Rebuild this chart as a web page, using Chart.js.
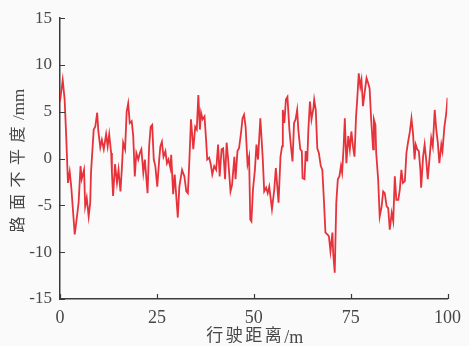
<!DOCTYPE html>
<html>
<head>
<meta charset="utf-8">
<script src="https://cdn.jsdelivr.net/npm/chart.js@4"></script>
<style>
  html, body { margin: 0; padding: 0; background: #fafafa; }
  #wrap { width: 469px; height: 346px; }
</style>
</head>
<body>
<div id="wrap"><canvas id="c" width="469" height="346"></canvas></div>
<script>
// Road roughness profile: distance (m) and elevation deviation (mm)
const distance = [
  0, 0.7, 1.2, 1.6, 2.05, 2.5, 2.9, 3.8, 4.2, 4.8, 5.3, 5.6, 6.2, 6.5, 6.9, 7.4, 7.8, 8.0,
  8.7, 9.1, 9.6, 9.9, 10.4, 10.8, 11.3, 11.9, 12.3, 12.7, 13.2, 13.4, 13.7, 14.2, 14.7, 15.1,
  15.6, 16.0, 16.3, 16.8, 17.2, 17.6, 18.0, 18.5, 18.9, 19.3, 19.7, 20.2, 20.6, 21.0, 21.5,
  21.9, 22.3, 22.6, 23.0, 23.4, 23.8, 24.2, 24.6, 25.1, 25.6, 25.9, 26.3, 26.7, 27.2, 27.6,
  28.0, 28.5, 28.7, 29.2, 29.6, 30.0, 30.4, 30.8, 31.5, 32.1, 32.6, 33.0, 33.4, 33.8, 34.4,
  34.9, 35.3, 35.7, 36.1, 36.4, 36.8, 37.3, 37.7, 38.0, 38.5, 38.9, 39.3, 39.8, 40.3, 40.8,
  41.2, 41.7, 42.1, 42.6, 43.0, 43.4, 44.0, 44.4, 45.0, 45.3, 45.8, 46.2, 46.7, 47.1, 47.5,
  47.9, 48.4, 48.8, 49.1, 49.4, 49.8, 50.3, 50.7, 51.1, 51.7, 52.3, 52.7, 53.2, 53.6, 54.0,
  54.7, 55.3, 55.7, 56.4, 56.9, 57.3, 57.5, 57.9, 58.3, 58.7, 59.2, 59.6, 60.0, 60.4, 60.8,
  61.2, 61.5, 62.0, 62.4, 62.6, 63.1, 63.4, 63.8, 64.1, 64.5, 64.9, 65.4, 65.6, 66.0, 66.4,
  66.8, 67.3, 67.7, 68.1, 68.5, 69.0, 69.4, 69.8, 70.3, 70.5, 70.9, 71.3, 71.7, 72.1, 72.5,
  72.8, 73.2, 73.5, 73.9, 74.4, 74.8, 75.2, 75.6, 76.0, 76.4, 76.7, 77.1, 77.5, 77.8, 78.2,
  78.6, 79.1, 79.5, 79.9, 80.3, 80.8, 81.0, 81.4, 81.6, 82.1, 82.5, 83.0, 83.4, 83.8, 84.3,
  84.7, 85.1, 85.6, 86.0, 86.4, 86.8, 87.3, 87.7, 88.1, 88.5, 89.0, 89.4, 89.8, 90.3, 90.7,
  91.1, 91.5, 91.8, 92.2, 92.6, 93.0, 93.2, 93.7, 94.1, 94.5, 94.9, 95.4, 95.8, 96.2, 96.7,
  97.1, 97.5, 97.9, 98.4, 98.7, 99.2, 99.7, 100
];
const roughness = [
  6.1, 8.4, 6.3, 2.4, -2.6, -1.4, -3.0, -8.1, -6.8, -4.7, -0.8, -2.2, -1.2, -5.1, -4.2, -6.2, -4.7, -1.5,
  3.1, 3.4, 4.9, 2.9, 1.2, 2.0, 1.0, 2.6, 1.3, 2.6, 0.6, -1.5, -4.0, -0.6, -2.6, -1.2,
  -3.5, -0.8, 1.7, 1.0, 5.0, 5.9, 3.8, 4.0, 2.4, -1.9, 0.6, -0.1, 0.6, 1.0, -1.5,
  -0.1, -2.2, -3.7, 1.3, 3.4, 3.6, -0.1, -0.8, -3.0, -0.1, 1.3, 1.8, 0.2, 0.8, -0.5,
  -0.1, -1.0, 0.4, -3.8, -1.7, -4.0, -6.3, -3.0, -1.2, -1.9, -3.5, -3.7, -0.1, 4.2, 1.0,
  3.4, 3.1, 6.8, 3.1, 4.9, 4.2, 4.5, 2.0, -0.1, 0.1, -0.6, -1.7, -0.8, -1.2, 1.5,
  -1.9, 1.0, 1.1, -2.2, 1.7, -0.1, -3.5, -2.8, 0.2, -2.2, 0.8, 1.1, 2.7, 4.3, 4.7,
  3.4, -0.6, 0.2, -6.5, -6.7, -3.3, -1.2, 1.5, -0.1, 4.3, 0.2, -3.5, -3.1, -3.7, -3.0,
  -5.4, -3.3, -1.0, -4.7, 0.2, 1.3, 5.2, 3.8, 6.3, 6.6, 3.1, 1.3, -0.3, 3.8, 4.2,
  5.2, 3.1, 1.0, 0.8, -2.1, -2.2, 0.8, -0.3, 3.1, 6.1, 4.2, 5.4, 6.3, 5.2, 1.1,
  0.6, -0.8, -1.2, -4.4, -7.9, -8.1, -8.3, -9.9, -7.9, -10.1, -12.2, -4.7, -2.2, -1.9, -0.8,
  -1.5, 1.3, 4.3, -0.5, 2.4, 1.0, 2.9, 1.3, 0.2, 4.5, 6.3, 9.1, 7.7, 8.4, 5.6,
  7.0, 8.6, 8.1, 7.5, 4.2, 1.0, 4.2, 3.6, 0.6, -2.2, -6.2, -5.1, -3.5, -3.7, -5.1,
  -5.3, -7.6, -5.8, -6.7, -1.9, -4.4, -4.4, -3.3, -1.2, -2.6, -2.4, 0.6, 1.7, 2.9, 4.3,
  2.7, -0.1, 1.5, 1.0, 0.8, -1.2, -3.1, 0.2, 1.5, -0.1, -2.2, 0.2, 2.2, 1.3, 5.2,
  3.1, 1.7, -0.5, 1.5, 0.8, 3.4, 4.9, 6.5
];
const xTicks = [0, 25, 50, 75, 100];
const yTicks = [-15, -10, -5, 0, 5, 10, 15];
const xTitle = ['行驶距离', '/m'];
const yTitle = ['路面不平度', '/mm'];

const points = distance.map((d, i) => ({ x: d, y: roughness[i] }));

const AXIS_COLOR = '#3a3a3a';
const TEXT_COLOR = '#474747';
const SERIF = "'Liberation Serif', 'Times New Roman', 'Noto Sans CJK SC', serif";

// Draws a title made of a CJK part (spaced out) followed by a unit part, centred at (0, 0)
function drawTitle(ctx, parts, cjkSize, cjkSpacing, unitSize) {
  ctx.font = cjkSize + 'px ' + SERIF;
  ctx.letterSpacing = cjkSpacing + 'px';
  const w1 = ctx.measureText(parts[0]).width;
  ctx.font = unitSize + 'px ' + SERIF;
  ctx.letterSpacing = '0px';
  const w2 = ctx.measureText(parts[1]).width;
  const start = -(w1 + w2) / 2;
  ctx.textAlign = 'left';
  ctx.textBaseline = 'middle';
  ctx.font = cjkSize + 'px ' + SERIF;
  ctx.letterSpacing = cjkSpacing + 'px';
  ctx.fillText(parts[0], start, 0);
  ctx.font = unitSize + 'px ' + SERIF;
  ctx.letterSpacing = '0px';
  ctx.fillText(parts[1], start + w1, 1);
}

// Short tick marks pointing into the plot area, plus the axis titles
const axisDecor = {
  id: 'axisDecor',
  afterDraw(chart) {
    const { ctx, chartArea, scales } = chart;
    ctx.save();
    ctx.strokeStyle = AXIS_COLOR;
    ctx.lineWidth = 1.2;
    ctx.beginPath();
    xTicks.forEach(v => {
      const px = Math.round(scales.x.getPixelForValue(v)) + 0.5;
      ctx.moveTo(px, chartArea.bottom);
      ctx.lineTo(px, chartArea.bottom - 5);
    });
    yTicks.forEach(v => {
      const py = Math.round(scales.y.getPixelForValue(v)) + 0.5;
      ctx.moveTo(chartArea.left, py);
      ctx.lineTo(chartArea.left + 5, py);
    });
    ctx.stroke();
    ctx.fillStyle = TEXT_COLOR;

    ctx.save();
    ctx.translate((chartArea.left + chartArea.right) / 2 + 1, chart.height - 9);
    drawTitle(ctx, xTitle, 17, 2.5, 18);
    ctx.restore();

    ctx.save();
    ctx.translate(19, (chartArea.top + chartArea.bottom) / 2 + 2);
    ctx.rotate(-Math.PI / 2);
    drawTitle(ctx, yTitle, 16, 6.5, 17);
    ctx.restore();

    ctx.restore();
  }
};

new Chart(document.getElementById('c'), {
  type: 'line',
  data: {
    datasets: [{
      data: points,
      borderColor: '#e6323a',
      borderWidth: 1.8,
      pointRadius: 0,
      tension: 0,
      fill: false
    }]
  },
  options: {
    responsive: false,
    animation: false,
    layout: { padding: { top: 18, right: 19, left: 0, bottom: 0 } },
    plugins: { legend: { display: false }, tooltip: { enabled: false } },
    scales: {
      x: {
        type: 'linear',
        min: 0, max: 100,
        afterBuildTicks(scale) { scale.ticks = xTicks.map(v => ({ value: v })); },
        afterFit(scale) { scale.height = 47; },
        grid: { display: false, drawTicks: false },
        border: { display: true, color: AXIS_COLOR, width: 1.5 },
        ticks: { color: TEXT_COLOR, padding: 8, font: { family: SERIF, size: 18 }, maxRotation: 0 }
      },
      y: {
        type: 'linear',
        min: -15, max: 15,
        afterBuildTicks(scale) { scale.ticks = yTicks.map(v => ({ value: v })); },
        afterFit(scale) { scale.width = 60; },
        grid: { display: false, drawTicks: false },
        border: { display: true, color: AXIS_COLOR, width: 1.5 },
        ticks: { color: TEXT_COLOR, padding: 8, font: { family: SERIF, size: 17 } }
      }
    }
  },
  plugins: [axisDecor]
});
</script>
</body>
</html>
